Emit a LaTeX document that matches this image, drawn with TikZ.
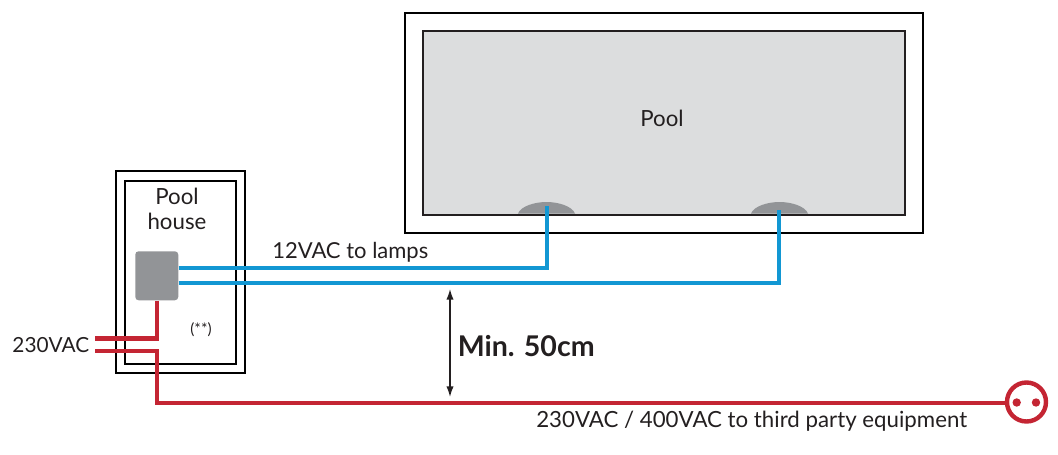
\documentclass[tikz,border=0pt]{standalone}
\usepackage{fontspec}
\setmainfont{Lato}
\usetikzlibrary{arrows.meta}
\definecolor{cblue}{HTML}{1297D3}
\definecolor{cred}{HTML}{C42533}
\definecolor{cpool}{HTML}{DCDDDE}
\definecolor{cgrey}{HTML}{929497}
\definecolor{ctext}{HTML}{231F20}
\tikzset{
  wall/.style={draw=black,line width=1.6pt,fill=none},
  bluewire/.style={draw=cblue,line width=3.7pt,line join=miter},
  redwire/.style={draw=cred,line width=3.3pt,line join=miter},
  txt/.style={inner sep=0pt,text=ctext,font=\fontsize{16.7pt}{18pt}\selectfont},
}
\begin{document}
\begin{tikzpicture}[x=0.75pt,y=-0.75pt]
\useasboundingbox (0,0) rectangle (1058,454);
% pool
\draw[wall] (405,13) rectangle (923,233);
\node[draw=ctext,line width=1.6pt,fill=cpool,minimum width=361.5pt,minimum height=138pt,inner sep=0pt,outer sep=0pt,anchor=north west] (pool) at (423,31) {};
\node[txt] (poollabel) at (662,118.5) {Pool};
% lamps
\fill[cgrey] (518,213.5) .. controls (521,206) and (535,202) .. (546.5,202) .. controls (558,202) and (572,206) .. (575,213.5) -- cycle;
\fill[cgrey] (751,213.5) .. controls (754,206) and (768,202) .. (779.5,202) .. controls (791,202) and (805,206) .. (808,213.5) -- cycle;
\coordinate (lampA) at (547,206);
\coordinate (lampB) at (779,210);
% house
\draw[wall] (116,171) rectangle (245,373);
\draw[wall] (125,181) rectangle (236,364);
\node[txt,align=center] (houselabel) at (177,212) {\strut Pool\\[1pt]\strut house};
\node[fill=cgrey,rounded corners=2.5pt,minimum width=32.25pt,minimum height=36.75pt,inner sep=0pt,anchor=north west] (box) at (135,251) {};
\node[txt,font=\fontsize{11.5pt}{13pt}\selectfont] (stars) at (201,330) {(**)};
% blue wires
\draw[bluewire] (box.east|-0,268) -- (lampA|-0,268) -- (lampA);
\draw[bluewire] (box.east|-0,283) -- (lampB|-0,283) -- (lampB);
\node[txt,anchor=south west,font=\fontsize{16.5pt}{18pt}\selectfont] (lamps) at (272,263) {12VAC to lamps};
% socket
\node[circle,draw=cred,line width=3.3pt,minimum size=29.25pt,inner sep=0pt,outer sep=0pt] (socket) at (1026.5,402) {};
\fill[cred] (1016.7,402.5) circle (4.2);
\fill[cred] (1036,402.5) circle (4.2);
% red wires
\coordinate (inA) at (95,338.5);
\coordinate (inB) at (95,351);
\draw[redwire] (box.south-|157,0) -- (157,338.5) -- (inA);
\draw[redwire] (inB) -- (157,351) -- (157,403) -- (socket.west|-0,403);
\node[txt,anchor=east,font=\fontsize{15.6pt}{18pt}\selectfont] (mains) at (89.5,345) {230VAC};
\node[txt,anchor=west] (third) at (536,421) {230VAC / 400VAC to third party equipment};
% dimension
\coordinate (dimA) at (450,289);
\coordinate (dimB) at (450,397);
\draw[{Latex[length=8pt,width=5.5pt]}-{Latex[length=8pt,width=5.5pt]},line width=1.1pt,draw=ctext] (dimA) -- (dimB);
\node[txt,anchor=west,font=\fontsize{21.4pt}{24pt}\selectfont\bfseries] (dim) at (457.5,346) {Min. 50cm};
\end{tikzpicture}
\end{document}
